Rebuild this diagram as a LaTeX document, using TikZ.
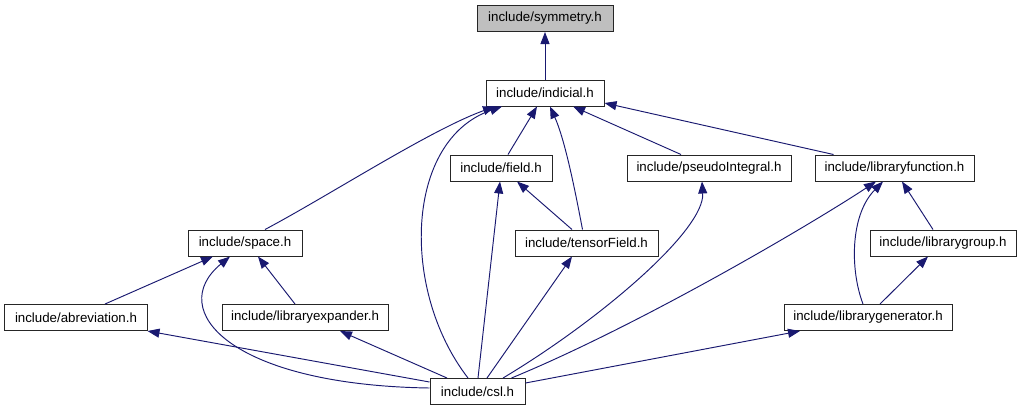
\documentclass[tikz,border=0pt]{standalone}
\usepackage{fontspec}
\setmainfont{Liberation Sans}
\usetikzlibrary{arrows.meta}
\definecolor{edgeblue}{RGB}{25,25,112}
\definecolor{hlgray}{RGB}{191,191,191}
\begin{document}
\begin{tikzpicture}[x=1bp,y=-1bp,
  box/.style={draw=black!85,line width=1bp,inner sep=0pt,minimum height=26bp,
    font=\fontsize{13.3bp}{16bp}\selectfont,fill=white},
  edge/.style={draw=edgeblue,line width=0.95bp,
    -{Triangle[length=12bp,width=9bp,fill=edgeblue]}}]
\useasboundingbox (0,0) rectangle (1021,411);
% nodes
\node[box,fill=hlgray,minimum width=136bp] (sym) at (545,18.5) {include/symmetry.h};
\node[box,minimum width=118bp] (ind) at (545,93) {include/indicial.h};
\node[box,minimum width=102bp] (fld) at (501,168) {include/field.h};
\node[box,minimum width=164bp] (psi) at (709,168) {include/pseudoIntegral.h};
\node[box,minimum width=159bp] (lfn) at (894.5,168) {include/libraryfunction.h};
\node[box,minimum width=114bp] (spc) at (245,243) {include/space.h};
\node[box,minimum width=143bp] (tfd) at (586.5,243) {include/tensorField.h};
\node[box,minimum width=146bp] (lgp) at (943,243) {include/librarygroup.h};
\node[box,minimum width=142bp] (abr) at (76,317.5) {include/abreviation.h};
\node[box,minimum width=166bp] (lex) at (305,317.5) {include/libraryexpander.h};
\node[box,minimum width=168bp] (lgn) at (868,317.5) {include/librarygenerator.h};
\node[box,minimum width=95bp] (csl) at (477.5,391.5) {include/csl.h};
% edges
\draw[edge] (ind.north) -- (sym.south);
\draw[edge] ([xshift=20bp]spc.north) .. controls (330,195) and (430,130) .. ([xshift=-50bp]ind.south);
\draw[edge] ([xshift=-9.5bp]csl.north) .. controls (400,290) and (405,140) .. ([xshift=-43bp]ind.south);
\draw[edge] ([xshift=7bp]fld.north) -- ([xshift=-8bp]ind.south);
\draw[edge] ([xshift=-4bp]tfd.north) .. controls (575,190) and (565,140) .. ([xshift=5bp]ind.south);
\draw[edge] ([xshift=-28bp]psi.north) -- ([xshift=28bp]ind.south);
\draw[edge] ([xshift=-61bp]lfn.north) -- ([yshift=-10bp]ind.east);
\draw[edge] ([xshift=-14.5bp]tfd.north) -- ([xshift=16bp]fld.south);
\draw[edge] ([xshift=0.5bp]csl.north) -- ([xshift=-1bp]fld.south);
\draw[edge] ([xshift=25.5bp]csl.north) .. controls (600,320) and (705,230) .. ([xshift=-7bp]psi.south);
\draw[edge] ([xshift=34bp]csl.north) .. controls (640,325) and (810,225) .. ([xshift=-18.5bp]lfn.south);
\draw[edge] ([xshift=-5bp]lgn.north) .. controls (850,270) and (850,215) .. ([xshift=-11.5bp]lfn.south);
\draw[edge] ([xshift=-10bp]lgp.north) -- ([xshift=7.5bp]lfn.south);
\draw[edge] ([xshift=12bp]lgn.north) -- ([xshift=-15bp]lgp.south);
\draw[edge] ([xshift=29bp]abr.north) -- ([xshift=-32bp]spc.south);
\draw[edge] ([xshift=-10bp]lex.north) -- ([xshift=13bp]spc.south);
\draw[edge] ([yshift=3.5bp]csl.west) .. controls (230,385) and (165,310) .. ([xshift=-15bp]spc.south);
\draw[edge] ([yshift=9.5bp]csl.west) -- (abr.south east);
\draw[edge] ([xshift=-30.5bp]csl.north) -- ([xshift=35bp]lex.south);
\draw[edge] ([xshift=9.5bp]csl.north) -- ([xshift=-14.5bp]tfd.south);
\draw[edge] ([yshift=8.5bp]csl.east) -- ([xshift=-68bp]lgn.south);
\end{tikzpicture}
\end{document}
